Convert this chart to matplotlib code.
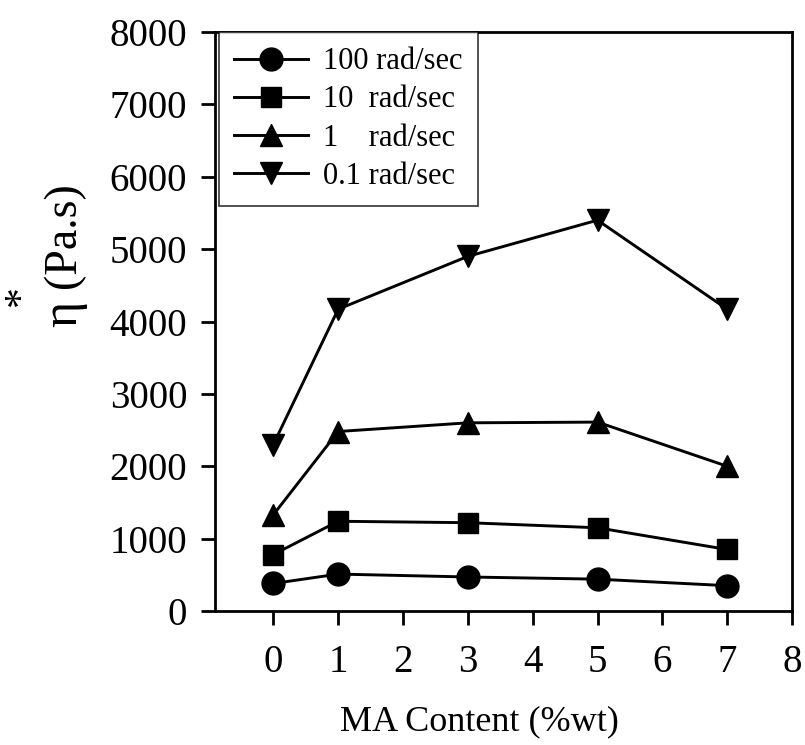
import matplotlib
matplotlib.use("Agg")
import matplotlib.pyplot as plt

ma_content = [0, 1, 3, 5, 7]
eta_100 = [380, 510, 470, 440, 350]
eta_10 = [780, 1240, 1220, 1150, 850]
eta_1 = [1330, 2480, 2600, 2610, 2000]
eta_01 = [2300, 4170, 4900, 5400, 4170]
series_labels = ["100 rad/sec", "10  rad/sec", "1    rad/sec", "0.1 rad/sec"]
x_ticks = [0, 1, 2, 3, 4, 5, 6, 7, 8]
y_ticks = [0, 1000, 2000, 3000, 4000, 5000, 6000, 7000, 8000]

plt.rcParams['font.family'] = ['Liberation Serif', 'DejaVu Serif']

fig = plt.figure(figsize=(8.05, 7.45), dpi=100)
ax = fig.add_axes([215/805, 1-611/745, (792-215)/805, (611-32)/745])

markers = ['o', 's', '^', 'v']
sizes = [16.5, 14.5, 16.5, 16.5]
for ys, m, ms, lab in zip([eta_100, eta_10, eta_1, eta_01], markers, sizes, series_labels):
    ax.plot(ma_content, ys, color='black', lw=2.1, marker=m, ms=ms,
            markerfacecolor='black', markeredgecolor='black', label=lab)

ax.set_xlim(-0.9, 8)
ax.set_ylim(0, 8000)
ax.set_xticks(x_ticks)
ax.set_yticks(y_ticks)
ax.tick_params(axis='both', direction='out', length=10, width=2.0, labelsize=28,
               top=False, right=False)
ax.tick_params(axis='x', pad=14)
ax.tick_params(axis='y', pad=10)
for s in ax.spines.values():
    s.set_linewidth(2.0)

leg = ax.legend(loc='upper left', bbox_to_anchor=(0.007, 1.0), borderaxespad=0,
                fontsize=22, handlelength=2.4, handletextpad=0.5, labelspacing=0.3,
                frameon=True, fancybox=False, edgecolor='black', borderpad=0.5)
leg.get_frame().set_linewidth(1.2)

fig.text(479/805, 1-722/745, "MA Content (%wt)", ha='center', va='center', fontsize=26)
fig.text(64/805, 1-314/745, "η", ha='center', va='center', fontsize=36, rotation=90)
fig.text(64/805, 1-235/745, "(Pa.s)", ha='center', va='center', fontsize=33, rotation=90)
fig.text(22/805, 1-296/745, "*", ha='center', va='center', fontsize=30, rotation=90)

fig.savefig("out.png", dpi=100)
